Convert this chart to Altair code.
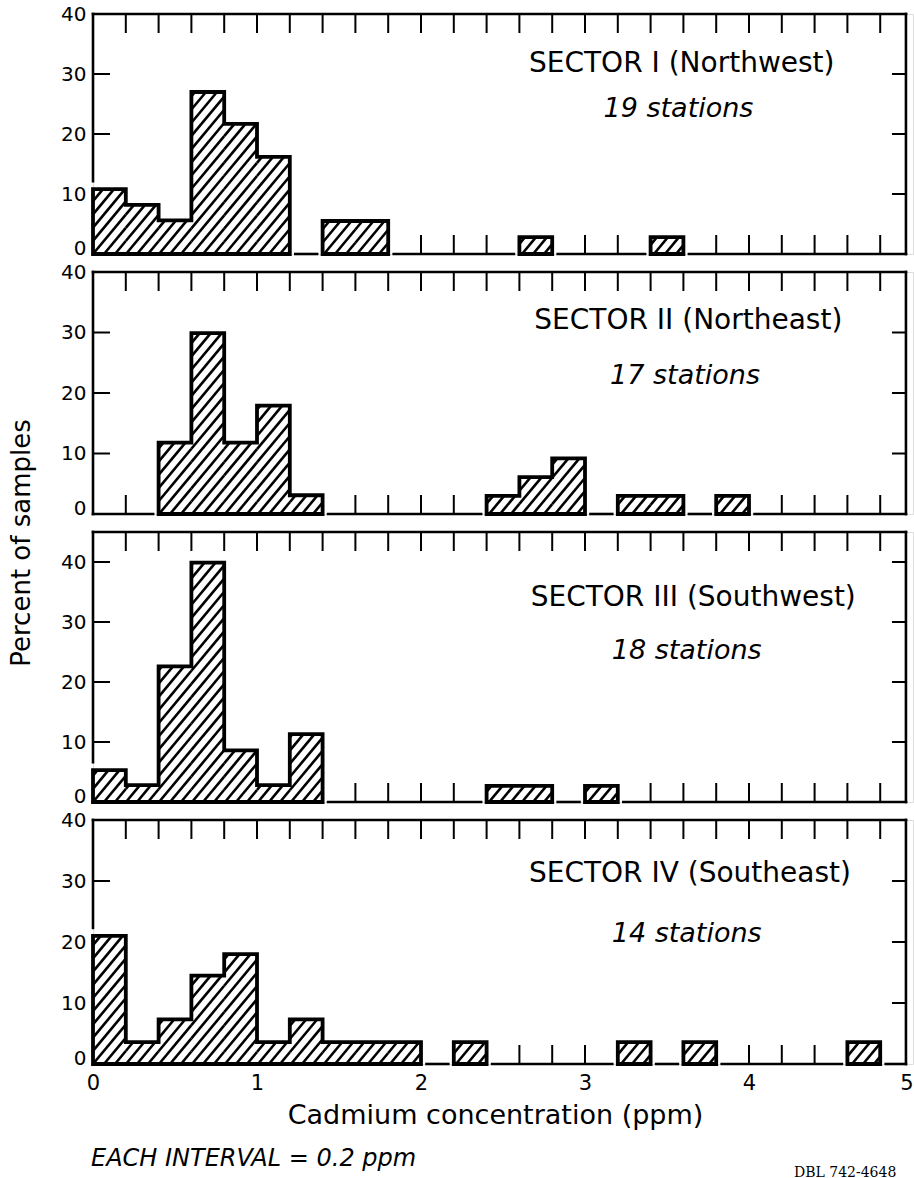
import altair as alt
import numpy as np
import pandas as pd

# ---------------- data (percent of samples per 0.2 ppm interval) ----------------
BIN_WIDTH = 0.2
X_MAX = 5.0
FRAME_RIGHT = 4.957

sector_titles = ["SECTOR I (Northwest)", "SECTOR II (Northeast)",
                 "SECTOR III (Southwest)", "SECTOR IV (Southeast)"]
station_labels = ["19 stations", "17 stations", "18 stations", "14 stations"]

sector1 = [10.8, 8.2, 5.6, 27.0, 21.7, 16.2, 0, 5.5, 5.5, 0, 0, 0, 0,
           2.8, 0, 0, 0, 2.8, 0, 0, 0, 0, 0, 0, 0]
sector2 = [0, 0, 11.8, 29.9, 11.8, 17.9, 3.1, 0, 0, 0, 0, 0,
           3.0, 6.1, 9.2, 0, 3.0, 3.0, 0, 3.0, 0, 0, 0, 0, 0]
sector3 = [5.3, 2.8, 22.6, 39.9, 8.6, 2.8, 11.3, 0, 0, 0, 0, 0,
           2.7, 2.7, 0, 2.7, 0, 0, 0, 0, 0, 0, 0, 0, 0]
sector4 = [21.0, 3.6, 7.3, 14.5, 18.0, 3.6, 7.3, 3.6, 3.6, 3.6, 0, 3.6,
           0, 0, 0, 0, 3.6, 0, 3.6, 0, 0, 0, 0, 3.6, 0]
sectors = [sector1, sector2, sector3, sector4]

y_max = [40, 40, 45, 40]
y_label_values = [0, 10, 20, 30, 40]
y_tick_values = [[10, 20, 30], [10, 20, 30], [10, 20, 30, 40], [10, 20, 30]]
x_label_values = [0, 1, 2, 3, 4, 5]

title_x = [3.59, 3.63, 3.66, 3.64]
title_y = [31.7, 31.9, 34.0, 31.1]
stations_x = [3.57, 3.61, 3.62, 3.62]
stations_y = [24.2, 22.8, 25.2, 21.3]

# ---------------- layout / style ----------------
WIDTH = 820
HEIGHTS = [240, 242, 270, 244]
SPACING = 18
FONT = "DejaVu Sans"
HATCH_STEP = 11.0   # px, horizontal spacing of hatch lines
HATCH_SLOPE = 1.2   # pixel slope of hatch lines
EDGE_GAP = 5.5      # px gap between baseline and bars
TOP_TICK = 18
BOTTOM_TICK = 18
LEFT_TICK = 16
RIGHT_TICK = 13


def panel(idx):
    values = sectors[idx]
    n = len(values)
    ymax = y_max[idx]
    height = HEIGHTS[idx]
    px_x = WIDTH / X_MAX
    px_y = height / ymax
    xs = alt.Scale(domain=[0, X_MAX], nice=False, zero=False)
    ys = alt.Scale(domain=[0, ymax], nice=False, zero=False)

    # bars
    bars = pd.DataFrame([
        {"x0": i * BIN_WIDTH, "x1": (i + 1) * BIN_WIDTH, "y0": 0.0, "h": v}
        for i, v in enumerate(values) if v > 0
    ])

    # hatch segments (derived from the bar values)
    hrows = []
    hmax = max(values) * px_y
    c0 = np.floor((-hmax / HATCH_SLOPE) / HATCH_STEP) * HATCH_STEP - HATCH_STEP
    cs = np.arange(c0, WIDTH + HATCH_STEP, HATCH_STEP)
    for i, v in enumerate(values):
        if v <= 0:
            continue
        X0, X1 = i * BIN_WIDTH * px_x, (i + 1) * BIN_WIDTH * px_x
        Hb = v * px_y
        for c in cs:
            xa = max(X0, c)
            xb = min(X1, c + Hb / HATCH_SLOPE)
            if xb - xa > 0.4:
                hrows.append({"x": xa / px_x, "y": HATCH_SLOPE * (xa - c) / px_y,
                              "x2": xb / px_x, "y2": HATCH_SLOPE * (xb - c) / px_y})
    hatch = pd.DataFrame(hrows)

    # outline of each contiguous group of bars
    orows = []
    runs = []
    i = 0
    while i < n:
        if values[i] > 0:
            j = i
            while j + 1 < n and values[j + 1] > 0:
                j += 1
            runs.append((i, j))
            i = j + 1
        else:
            i += 1
    for g, (a, b) in enumerate(runs):
        pts = [(a * BIN_WIDTH, 0.0)]
        for k in range(a, b + 1):
            pts.append((k * BIN_WIDTH, values[k]))
            pts.append(((k + 1) * BIN_WIDTH, values[k]))
        pts.append(((b + 1) * BIN_WIDTH, 0.0))
        for o, (px, py) in enumerate(pts):
            orows.append({"x": px, "y": py, "o": o, "g": g})
    outline = pd.DataFrame(orows)

    # frame, ticks and baseline
    rrows = []
    rrows.append({"x": 0, "x2": FRAME_RIGHT, "y": ymax, "y2": ymax, "w": 2.6})
    rrows.append({"x": FRAME_RIGHT, "x2": FRAME_RIGHT, "y": 0, "y2": ymax, "w": 2.6})
    left_end = values[0] + 8 / px_y if values[0] > 0 else 0
    rrows.append({"x": 0, "x2": 0, "y": ymax, "y2": left_end, "w": 2.6})
    for k in range(1, n):
        rrows.append({"x": k * BIN_WIDTH, "x2": k * BIN_WIDTH, "y": ymax,
                      "y2": ymax - TOP_TICK / px_y, "w": 2.0})
        if values[k - 1] == 0 and values[k] == 0:
            rrows.append({"x": k * BIN_WIDTH, "x2": k * BIN_WIDTH, "y": 0,
                          "y2": BOTTOM_TICK / px_y, "w": 2.0})
    for tv in y_tick_values[idx]:
        rrows.append({"x": 0, "x2": LEFT_TICK / px_x, "y": tv, "y2": tv, "w": 2.0})
        rrows.append({"x": FRAME_RIGHT - RIGHT_TICK / px_x, "x2": FRAME_RIGHT,
                      "y": tv, "y2": tv, "w": 2.0})
    gap = EDGE_GAP / px_x
    i = 0
    while i < n:
        if values[i] == 0:
            j = i
            while j + 1 < n and values[j + 1] == 0:
                j += 1
            start = i * BIN_WIDTH + (gap if i > 0 else 0)
            end = FRAME_RIGHT if j == n - 1 else (j + 1) * BIN_WIDTH - gap
            rrows.append({"x": start, "x2": end, "y": 0, "y2": 0, "w": 2.6})
            i = j + 1
        else:
            i += 1
    rules = pd.DataFrame(rrows)

    last = idx == 3
    if last:
        xaxis = alt.Axis(values=x_label_values, ticks=False, domain=False, grid=False,
                         labelFont=FONT, labelFontSize=21, labelColor="black",
                         labelPadding=8,
                         labelAlign={"expr": "datum.value == 5 ? 'right' : 'center'"},
                         title="Cadmium concentration (ppm)", titleFont=FONT,
                         titleFontSize=27, titleFontWeight="normal", titleColor="black",
                         titleX=402, titleY=38, titleBaseline="top")
    else:
        xaxis = None
    yaxis = alt.Axis(values=y_label_values, ticks=False, domain=False, grid=False,
                     labelFont=FONT, labelFontSize=20, labelColor="black",
                     labelPadding=7,
                     labelBaseline={"expr": "datum.value == 0 ? 'alphabetic' : 'middle'"},
                     title=None)

    def X(field):
        return alt.X(field, scale=xs, axis=xaxis)

    def Y(field):
        return alt.Y(field, scale=ys, axis=yaxis)

    rule_layer = alt.Chart(rules).mark_rule(color="black", strokeCap="square").encode(
        x=X("x:Q"), x2="x2:Q", y=Y("y:Q"), y2="y2:Q",
        strokeWidth=alt.StrokeWidth("w:Q", scale=None))

    rect_layer = alt.Chart(bars).mark_rect(fill="white", stroke=None).encode(
        x=X("x0:Q"), x2="x1:Q", y=Y("y0:Q"), y2="h:Q")

    hatch_layer = alt.Chart(hatch).mark_rule(color="black", strokeWidth=2.6).encode(
        x=X("x:Q"), x2="x2:Q", y=Y("y:Q"), y2="y2:Q")

    outline_layer = alt.Chart(outline).mark_line(
        color="black", strokeWidth=3.8, interpolate="linear-closed",
        strokeJoin="miter").encode(
        x=X("x:Q"), y=Y("y:Q"), order="o:Q", detail="g:N")

    labels = pd.DataFrame([
        {"x": title_x[idx], "y": title_y[idx], "t": sector_titles[idx]},
    ])
    st = pd.DataFrame([
        {"x": stations_x[idx], "y": stations_y[idx], "t": station_labels[idx]},
    ])
    title_layer = alt.Chart(labels).mark_text(
        font=FONT, fontSize=28, color="black", align="center", baseline="middle").encode(
        x=X("x:Q"), y=Y("y:Q"), text="t:N")
    st_layer = alt.Chart(st).mark_text(
        font=FONT, fontSize=27, fontStyle="italic", color="black",
        align="center", baseline="middle").encode(
        x=X("x:Q"), y=Y("y:Q"), text="t:N")

    layers = [rule_layer, rect_layer, hatch_layer, outline_layer, title_layer, st_layer]

    if idx == 2:
        ytitle = pd.DataFrame([{"t": "Percent of samples"}])
        layers.append(alt.Chart(ytitle).mark_text(
            font=FONT, fontSize=26, color="black", angle=270,
            align="center", baseline="middle").encode(
            x=alt.value(-71), y=alt.value(11), text="t:N"))
    if last:
        note = pd.DataFrame([{"t": "EACH INTERVAL = 0.2 ppm"}])
        layers.append(alt.Chart(note).mark_text(
            font=FONT, fontSize=24, fontStyle="italic", color="black",
            align="left", baseline="middle").encode(
            x=alt.value(-2), y=alt.value(339), text="t:N"))
        code = pd.DataFrame([{"t": "DBL 742-4648"}])
        layers.append(alt.Chart(code).mark_text(
            font="DejaVu Serif", fontSize=14, color="black",
            align="left", baseline="middle").encode(
            x=alt.value(701), y=alt.value(353), text="t:N"))

    return alt.layer(*layers).properties(width=WIDTH, height=height)


chart = alt.vconcat(*[panel(i) for i in range(4)], spacing=SPACING, bounds="flush").properties(
    padding={"left": 8, "top": 3, "right": 0, "bottom": 0},
    background="white",
).configure_view(stroke=None).configure(font=FONT)

chart.save("out.html", embed_options={"renderer": "svg", "actions": False})
